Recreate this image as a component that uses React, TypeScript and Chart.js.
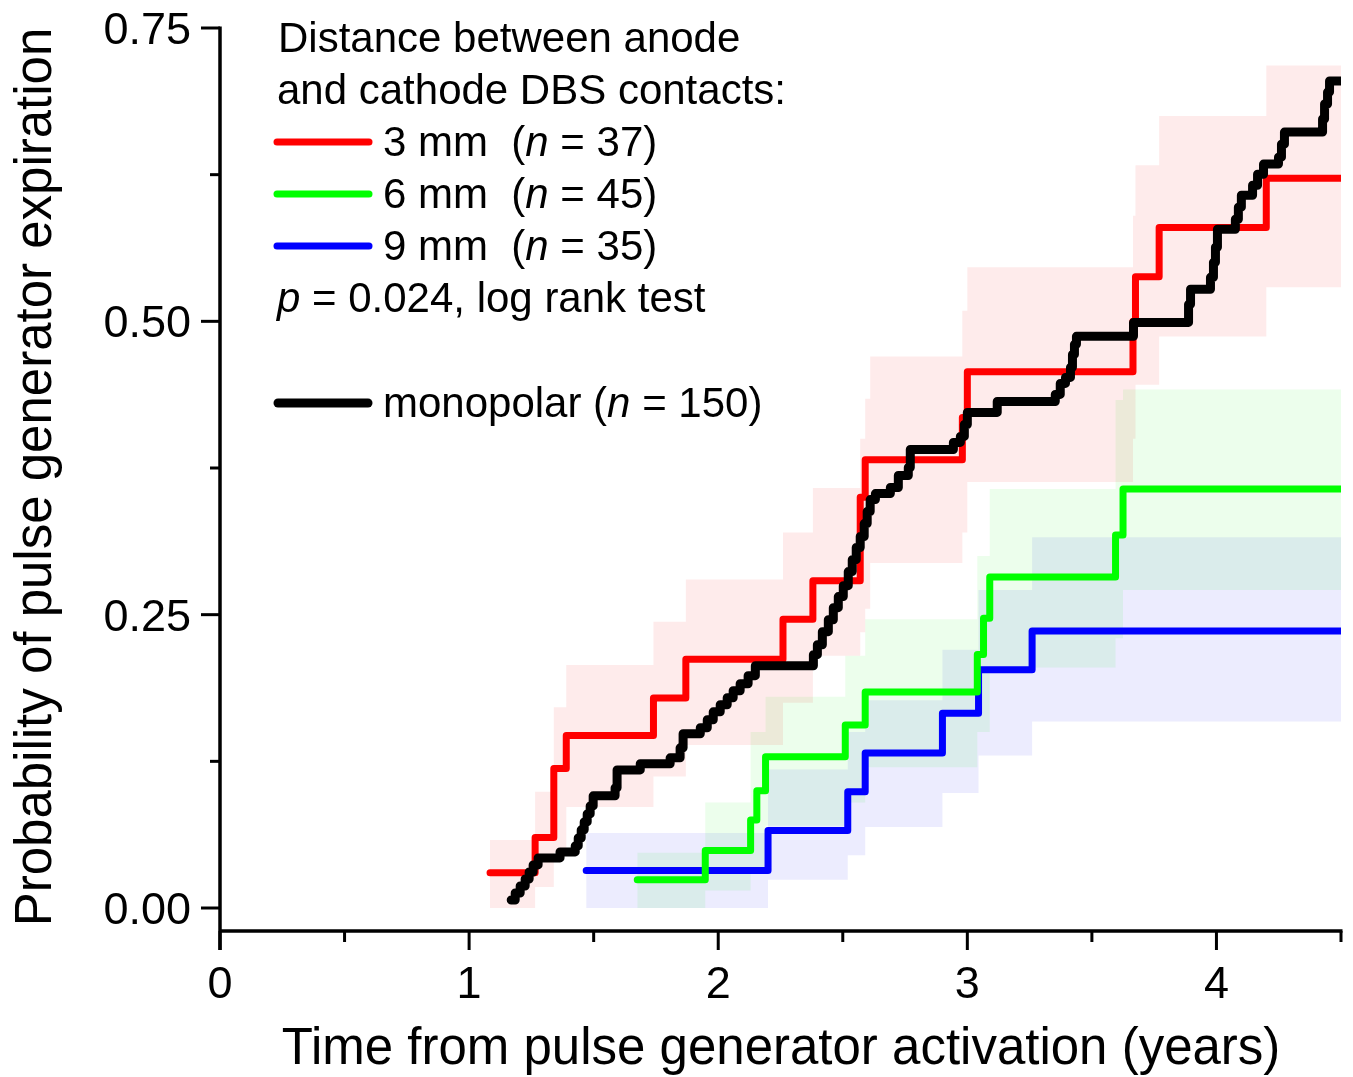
import React, { useEffect, useRef } from 'react';
import { Chart, registerables } from 'chart.js';

Chart.register(...registerables);

// ---- Kaplan-Meier step data (time in years, cumulative probability) ----
const redT = [1.084, 1.265, 1.34, 1.39, 1.74, 1.87, 2.26, 2.38, 2.57, 2.59, 2.98, 3.0, 3.665, 3.675, 3.77, 4.2, 4.5];
const redP = [0.030, 0.060, 0.119, 0.147, 0.179, 0.212, 0.246, 0.279, 0.350, 0.382, 0.418, 0.457, 0.500, 0.538, 0.580, 0.622, 0.622];

const greenT = [1.675, 1.948, 2.13, 2.155, 2.19, 2.51, 2.59, 3.04, 3.065, 3.09, 3.595, 3.625, 4.5];
const greenP = [0.024, 0.049, 0.075, 0.100, 0.129, 0.156, 0.184, 0.216, 0.247, 0.282, 0.318, 0.357, 0.357];

const blueT = [1.47, 2.2, 2.52, 2.59, 2.9, 3.045, 3.26, 4.5];
const blueP = [0.032, 0.066, 0.099, 0.132, 0.166, 0.203, 0.236, 0.236];

const blackT = [
  1.169, 1.185, 1.205, 1.225, 1.241, 1.257, 1.277, 1.365, 1.426, 1.438,
  1.450, 1.462, 1.474, 1.486, 1.498, 1.586, 1.594, 1.687, 1.807, 1.847,
  1.859, 1.928, 1.956, 1.980, 2.008, 2.036, 2.060, 2.088, 2.120, 2.149,
  2.382, 2.398, 2.418, 2.442, 2.462, 2.482, 2.502, 2.522, 2.538, 2.554,
  2.570, 2.586, 2.598, 2.610, 2.631, 2.691, 2.723, 2.763, 2.771, 2.944,
  2.972, 2.988, 3.000, 3.120, 3.353, 3.373, 3.394, 3.414, 3.422, 3.430,
  3.438, 3.667, 3.888, 3.896, 3.976, 3.988, 3.996, 4.004, 4.076, 4.088,
  4.100, 4.145, 4.165, 4.189, 4.249, 4.261, 4.273, 4.426, 4.434, 4.446,
  4.454, 4.5,
];
const blackP = [
  0.0068, 0.0128, 0.0188, 0.0247, 0.0307, 0.0367, 0.0427, 0.0478, 0.0529, 0.0597,
  0.0666, 0.0734, 0.0802, 0.0870, 0.0956, 0.1024, 0.1177, 0.1229, 0.1280, 0.1365,
  0.1485, 0.1536, 0.1604, 0.1672, 0.1732, 0.1792, 0.1852, 0.1911, 0.1980, 0.2065,
  0.2159, 0.2244, 0.2355, 0.2457, 0.2560, 0.2654, 0.2747, 0.2867, 0.2969, 0.3072,
  0.3166, 0.3276, 0.3379, 0.3481, 0.3532, 0.3584, 0.3686, 0.3754, 0.3908, 0.3968,
  0.4019, 0.4121, 0.4224, 0.4317, 0.4377, 0.4471, 0.4522, 0.4608, 0.4718, 0.4804,
  0.4872, 0.4991, 0.5145, 0.5273, 0.5375, 0.5503, 0.5631, 0.5785, 0.5870, 0.5973,
  0.6075, 0.6160, 0.6254, 0.6340, 0.6399, 0.6510, 0.6613, 0.6724, 0.6852, 0.6954,
  0.7048, 0.7048,
];

// ---- 95% confidence bands (interval boundaries, upper, lower) ----
const redBandT = [1.084, 1.265, 1.34, 1.39, 1.74, 1.87, 2.26, 2.38, 2.57, 2.59, 2.61, 2.98, 3.0, 3.665, 3.675, 3.77, 4.2, 4.5];
const redBandHi = [0.058, 0.099, 0.171, 0.207, 0.244, 0.280, 0.320, 0.358, 0.400, 0.434, 0.470, 0.509, 0.546, 0.590, 0.633, 0.675, 0.718];
const redBandLo = [0.0, 0.018, 0.047, 0.086, 0.112, 0.139, 0.175, 0.215, 0.235, 0.255, 0.294, 0.320, 0.363, 0.400, 0.446, 0.487, 0.529];

const greenBandT = [1.675, 1.948, 2.13, 2.19, 2.51, 2.59, 3.04, 3.09, 3.595, 3.625, 4.5];
const greenBandHi = [0.047, 0.090, 0.150, 0.180, 0.215, 0.246, 0.300, 0.357, 0.433, 0.442];
const greenBandLo = [0.0, 0.015, 0.030, 0.070, 0.090, 0.120, 0.150, 0.205, 0.230, 0.271];

const blueBandT = [1.47, 2.2, 2.52, 2.59, 2.9, 3.045, 3.26, 4.5];
const blueBandHi = [0.064, 0.118, 0.150, 0.177, 0.220, 0.271, 0.316];
const blueBandLo = [0.0, 0.024, 0.045, 0.069, 0.098, 0.130, 0.159];

// ---- axes ----
const xTickValues = [0, 0.5, 1, 1.5, 2, 2.5, 3, 3.5, 4, 4.5];
const xTickLabels = ['0', '', '1', '', '2', '', '3', '', '4', ''];
const yTickValues = [0, 0.125, 0.25, 0.375, 0.5, 0.625, 0.75];
const yTickLabels = ['0.00', '', '0.25', '', '0.50', '', '0.75'];

const xTitle = 'Time from pulse generator activation (years)';
const yTitle = 'Probability of pulse generator expiration';

const FONT = '"Liberation Sans", Arial, Helvetica, sans-serif';

const pts = (t: number[], p: number[]) => t.map((x, i) => ({ x, y: p[i] }));
const bandPts = (t: number[], v: number[]) => t.map((x, i) => ({ x, y: v[Math.min(i, v.length - 1)] }));

const lineDs = (label: string, t: number[], p: number[], color: string, width: number, order: number) => ({
  label,
  data: pts(t, p),
  borderColor: color,
  backgroundColor: color,
  borderWidth: width,
  borderCapStyle: 'round' as const,
  borderJoinStyle: 'round' as const,
  stepped: true,
  pointRadius: 0,
  fill: false,
  order,
});

const bandDs = (label: string, t: number[], v: number[], fillColor: string, fill: any, order: number) => ({
  label,
  data: bandPts(t, v),
  borderWidth: 0,
  borderColor: 'rgba(0,0,0,0)',
  backgroundColor: fillColor,
  stepped: true,
  pointRadius: 0,
  fill,
  order,
});

const axesPlugin = {
  id: 'axesAndText',
  afterDraw(chart: any) {
    const ctx = chart.ctx as CanvasRenderingContext2D;
    const xs = chart.scales.x;
    const ys = chart.scales.y;
    const area = chart.chartArea;
    const x0 = xs.getPixelForValue(0);
    const yBase = area.bottom;
    ctx.save();
    ctx.strokeStyle = '#000';
    ctx.fillStyle = '#000';
    ctx.lineCap = 'butt';
    ctx.lineWidth = 3.5;
    // y axis line
    ctx.beginPath();
    ctx.moveTo(x0, ys.getPixelForValue(0.75) - 1.5);
    ctx.lineTo(x0, yBase + 19);
    ctx.stroke();
    // x axis line
    ctx.beginPath();
    ctx.moveTo(x0, yBase);
    ctx.lineTo(xs.getPixelForValue(4.5) + 1.5, yBase);
    ctx.stroke();
    // x ticks
    ctx.lineWidth = 3;
    xTickValues.forEach((v, i) => {
      const px = xs.getPixelForValue(v);
      const major = xTickLabels[i] !== '';
      ctx.beginPath();
      ctx.moveTo(px, yBase);
      ctx.lineTo(px, yBase + (major ? 19 : 11));
      ctx.stroke();
    });
    // y ticks
    yTickValues.forEach((v, i) => {
      const py = ys.getPixelForValue(v);
      const major = yTickLabels[i] !== '';
      ctx.beginPath();
      ctx.moveTo(x0, py);
      ctx.lineTo(x0 - (major ? 19 : 10), py);
      ctx.stroke();
    });
    // tick labels
    ctx.font = `45px ${FONT}`;
    ctx.textBaseline = 'alphabetic';
    ctx.textAlign = 'center';
    xTickValues.forEach((v, i) => {
      if (!xTickLabels[i]) return;
      ctx.fillText(xTickLabels[i], xs.getPixelForValue(v), yBase + 67);
    });
    ctx.textAlign = 'right';
    yTickValues.forEach((v, i) => {
      if (!yTickLabels[i]) return;
      ctx.fillText(yTickLabels[i], 191, ys.getPixelForValue(v) + 16);
    });
    // titles
    ctx.font = `51px ${FONT}`;
    ctx.textAlign = 'center';
    ctx.fillText(xTitle, 781, 1064);
    ctx.save();
    ctx.translate(51, 477);
    ctx.rotate(-Math.PI / 2);
    ctx.fillText(yTitle, 0, 0);
    ctx.restore();

    // legend
    const LF = `42px ${FONT}`;
    const LI = `italic 42px ${FONT}`;
    ctx.textAlign = 'left';
    const drawRuns = (x: number, y: number, runs: [string, boolean][]) => {
      let cx = x;
      runs.forEach(([s, it]) => {
        ctx.font = it ? LI : LF;
        ctx.fillText(s, cx, y);
        cx += ctx.measureText(s).width;
      });
    };
    drawRuns(278, 52, [['Distance between anode', false]]);
    drawRuns(277, 104, [['and cathode DBS contacts:', false]]);
    const entries: [string, string, number, number][] = [
      ['#ff0000', '3 mm  (', 37, 156],
      ['#00ff00', '6 mm  (', 45, 208],
      ['#0000ff', '9 mm  (', 35, 260],
    ];
    ctx.lineCap = 'round';
    entries.forEach(([c, txt, n, y]) => {
      ctx.strokeStyle = c;
      ctx.lineWidth = 7;
      ctx.beginPath();
      ctx.moveTo(277, y - 14);
      ctx.lineTo(369, y - 14);
      ctx.stroke();
      drawRuns(383, y, [[txt, false], ['n', true], [` = ${n})`, false]]);
    });
    drawRuns(277, 312, [['p', true], [' = 0.024, log rank test', false]]);
    ctx.strokeStyle = '#000';
    ctx.lineWidth = 9;
    ctx.beginPath();
    ctx.moveTo(278, 403);
    ctx.lineTo(368, 403);
    ctx.stroke();
    drawRuns(383, 417, [['monopolar (', false], ['n', true], [' = 150)', false]]);
    ctx.restore();
  },
};

export default function App() {
  const ref = useRef<HTMLCanvasElement>(null);
  useEffect(() => {
    document.body.style.margin = '0';
    const canvas = ref.current;
    if (!canvas) return;
    const chart = new Chart(canvas, {
      type: 'line',
      data: {
        datasets: [
          lineDs('monopolar', blackT, blackP, '#000000', 9, 0),
          lineDs('3 mm', redT, redP, '#ff0000', 7, 1),
          lineDs('6 mm', greenT, greenP, '#00ff00', 7, 2),
          lineDs('9 mm', blueT, blueP, '#0000ff', 7, 3),
          bandDs('3 mm upper', redBandT, redBandHi, 'rgba(240,30,30,0.09)', '+1', 10),
          bandDs('3 mm lower', redBandT, redBandLo, 'rgba(0,0,0,0)', false, 11),
          bandDs('6 mm upper', greenBandT, greenBandHi, 'rgba(30,240,30,0.085)', '+1', 12),
          bandDs('6 mm lower', greenBandT, greenBandLo, 'rgba(0,0,0,0)', false, 13),
          bandDs('9 mm upper', blueBandT, blueBandHi, 'rgba(30,30,240,0.085)', '+1', 14),
          bandDs('9 mm lower', blueBandT, blueBandLo, 'rgba(0,0,0,0)', false, 15),
        ] as any,
      },
      options: {
        animation: false,
        responsive: false,
        maintainAspectRatio: false,
        layout: { padding: { left: 220, right: 12, top: 28, bottom: 146 } },
        scales: {
          x: { type: 'linear', min: 0, max: 4.5, display: false },
          y: { type: 'linear', min: -0.0196, max: 0.75, display: false },
        },
        plugins: {
          legend: { display: false },
          tooltip: { enabled: false },
          filler: { drawTime: 'beforeDatasetsDraw' },
        } as any,
        elements: { line: { tension: 0 } },
      },
      plugins: [axesPlugin],
    });
    return () => chart.destroy();
  }, []);
  return (
    <div style={{ width: 1353, height: 1077 }}>
      <canvas ref={ref} width={1353} height={1077} style={{ display: 'block' }} />
    </div>
  );
}
